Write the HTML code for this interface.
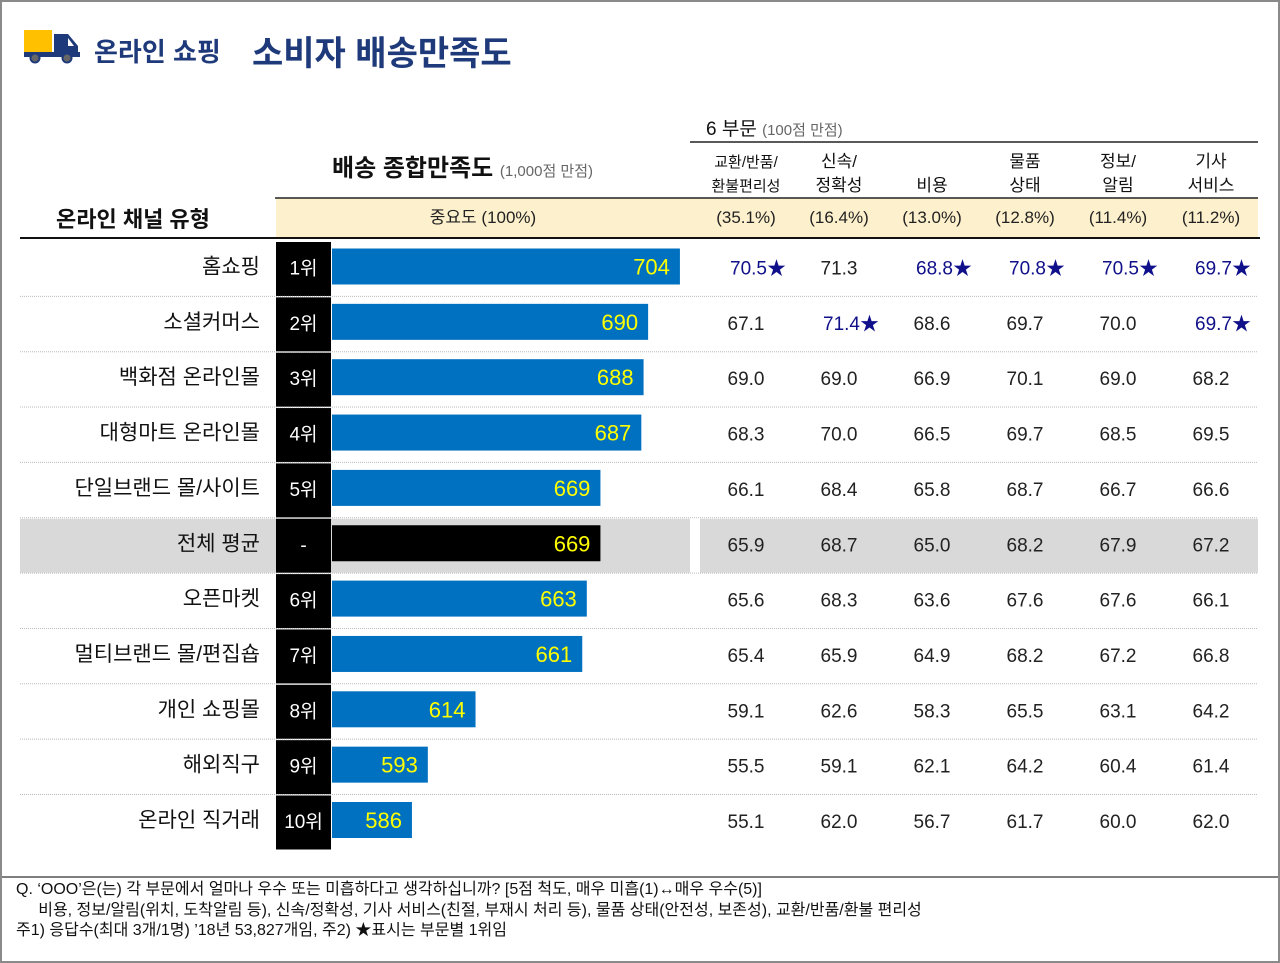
<!DOCTYPE html>
<html><head><meta charset="utf-8"><style>
body{margin:0;width:1280px;height:963px;overflow:hidden;background:#fff;font-family:"Liberation Sans","Noto Sans CJK KR",sans-serif;}
#frame{position:absolute;left:0;top:0;width:1276px;height:959px;border:2px solid #8a8a8a;}
.t{position:absolute;white-space:nowrap;}
</style></head><body>
<div id="frame"></div>
<svg id="truck" style="position:absolute;left:24px;top:30px" width="58" height="34">
<rect x="0" y="0" width="28" height="24" fill="#ffc000"/>
<path d="M30 4 H44 L54 16 V26 H30 Z" fill="#1f3a7a"/><rect x="0" y="22" width="56" height="5" fill="#1f3a7a"/>
<path d="M44 8 L50 16 H44 Z" fill="#fff"/>
<circle cx="11" cy="28" r="4.5" fill="#666" stroke="#1f3a7a" stroke-width="2"/><circle cx="43" cy="28" r="4.5" fill="#666" stroke="#1f3a7a" stroke-width="2"/>
</svg>
<div class="t" style="left:94px;top:32px;font-size:26px;font-weight:bold;color:#1f3a7a">온라인 쇼핑</div>
<div class="t" style="left:252px;top:26px;font-size:34px;font-weight:bold;color:#1f3a7a">소비자 배송만족도</div>
<div class="t" style="left:332px;top:148px;font-size:24px;font-weight:bold;color:#111">배송 종합만족도 <span style="font-size:15px;font-weight:normal;color:#666">(1,000점 만점)</span></div>
<div class="t" style="left:56px;top:202px;font-size:22px;font-weight:bold;color:#111">온라인 채널 유형</div>
<div class="t" style="left:706px;top:114px;font-size:19px;color:#111">6 부문 <span style="font-size:15px;color:#666">(100점 만점)</span></div>
<svg id="chart" width="1280" height="963" style="position:absolute;left:0;top:0"></svg>
<div class="t" style="left:16px;top:880px;font-size:16px;line-height:20.5px;color:#111">Q. ‘OOO’은(는) 각 부문에서 얼마나 우수 또는 미흡하다고 생각하십니까? [5점 척도, 매우 미흡(1)↔매우 우수(5)]<br>&nbsp;&nbsp;&nbsp;&nbsp;&nbsp;비용, 정보/알림(위치, 도착알림 등), 신속/정확성, 기사 서비스(친절, 부재시 처리 등), 물품 상태(안전성, 보존성), 교환/반품/환불 편리성<br>주1) 응답수(최대 3개/1명) ’18년 53,827개임, 주2) ★표시는 부문별 1위임</div>
<script>
const channels=["홈쇼핑","소셜커머스","백화점 온라인몰","대형마트 온라인몰","단일브랜드 몰/사이트","전체 평균","오픈마켓","멀티브랜드 몰/편집숍","개인 쇼핑몰","해외직구","온라인 직거래"];
const ranks=["1위","2위","3위","4위","5위","-","6위","7위","8위","9위","10위"];
const overall=[704,690,688,687,669,669,663,661,614,593,586];
const sectors=["교환/반품/|환불편리성","신속/|정확성","비용","물품|상태","정보/|알림","기사|서비스"];
const weights=["(35.1%)","(16.4%)","(13.0%)","(12.8%)","(11.4%)","(11.2%)"];
const s1=[70.5,67.1,69.0,68.3,66.1,65.9,65.6,65.4,59.1,55.5,55.1];
const s2=[71.3,71.4,69.0,70.0,68.4,68.7,68.3,65.9,62.6,59.1,62.0];
const s3=[68.8,68.6,66.9,66.5,65.8,65.0,63.6,64.9,58.3,62.1,56.7];
const s4=[70.8,69.7,70.1,69.7,68.7,68.2,67.6,68.2,65.5,64.2,61.7];
const s5=[70.5,70.0,69.0,68.5,66.7,67.9,67.6,67.2,63.1,60.4,60.0];
const s6=[69.7,69.7,68.2,69.5,66.6,67.2,66.1,66.8,64.2,61.4,62.0];
const avgIndex=5;
const svg=document.getElementById('chart');const NS='http://www.w3.org/2000/svg';
function mk(t,a,p){const e=document.createElementNS(NS,t);for(const k in a)e.setAttribute(k,a[k]);(p||svg).appendChild(e);return e;}
const xS=v=>332+(v-550.8)*2.271;
const rowY=i=>241+i*55.35;
const colX=j=>746+j*93;
let e=mk('rect',{x:276,y:198,width:982,height:40,fill:'#fdf0cc'});


mk('line',{x1:275,y1:198,x2:1258,y2:198,stroke:'#222','stroke-width':1.5});
mk('line',{x1:690,y1:142,x2:1258,y2:142,stroke:'#222','stroke-width':1.5});
mk('line',{x1:20,y1:238,x2:1260,y2:238,stroke:'#111','stroke-width':2});
e=mk('text',{x:483,y:223,'text-anchor':'middle','font-size':17,fill:'#222'});e.textContent='중요도 (100%)';


sectors.forEach((s,j)=>{const parts=s.split('|');
 parts.forEach((p,k)=>{const y=parts.length===1?191:(k===0?167:191);
  const t=mk('text',{x:colX(j),y:y,'text-anchor':'middle','font-size':j===0?15:17,fill:'#111'});t.textContent=p;
  
  });
 const w=mk('text',{x:colX(j),y:223,'text-anchor':'middle','font-size':17,fill:'#222'});w.textContent=weights[j];
 
 
});
const series=[s1,s2,s3,s4,s5,s6];
const maxes=series.map(s=>Math.max(...s.filter((v,i)=>i!==avgIndex)));
channels.forEach((c,i)=>{const y=rowY(i),cy=y+25.5;
 if(i===avgIndex){
  let g=mk('rect',{x:20,y:y+1,width:670,height:54,fill:'#d9d9d9'});
  
  
  g=mk('rect',{x:700,y:y+1,width:558,height:54,fill:'#d9d9d9'});
  
  
 }
 if(i>0){mk('line',{x1:20,y1:y,x2:1258,y2:y,stroke:'#bbb','stroke-width':1,'stroke-dasharray':'1,1'});}
 let r=mk('rect',{x:276,y:y+1,width:55,height:54,fill:'#000'});
 
 
 let t=mk('text',{x:303.5,y:cy+8,'text-anchor':'middle','font-size':19,fill:'#fff'});t.textContent=ranks[i];
 
 
 t=mk('text',{x:260,y:cy+7,'text-anchor':'end','font-size':21,fill:'#111'});t.textContent=c;
 
 
 const xe=xS(overall[i]);
 const b=mk('rect',{x:332,y:cy-18,width:xe-332,height:36,fill:i===avgIndex?'#000':'#0070c0'});
 
 
 t=mk('text',{x:xe-10,y:cy+8,'text-anchor':'end','font-size':22,fill:'#ffff00'});t.textContent=overall[i];
 
 
 series.forEach((s,j)=>{const top=i!==avgIndex&&s[i]===maxes[j];
  const v=mk('text',{x:colX(j)+(top?12:0),y:cy+8,'text-anchor':'middle','font-size':19,fill:top?'#10108a':'#222'});
  v.textContent=s[i].toFixed(1)+(top?'★':'');
  
  
 });
});
mk('line',{x1:2,y1:877,x2:1278,y2:877,stroke:'#555','stroke-width':1.5});
</script>
</body></html>
